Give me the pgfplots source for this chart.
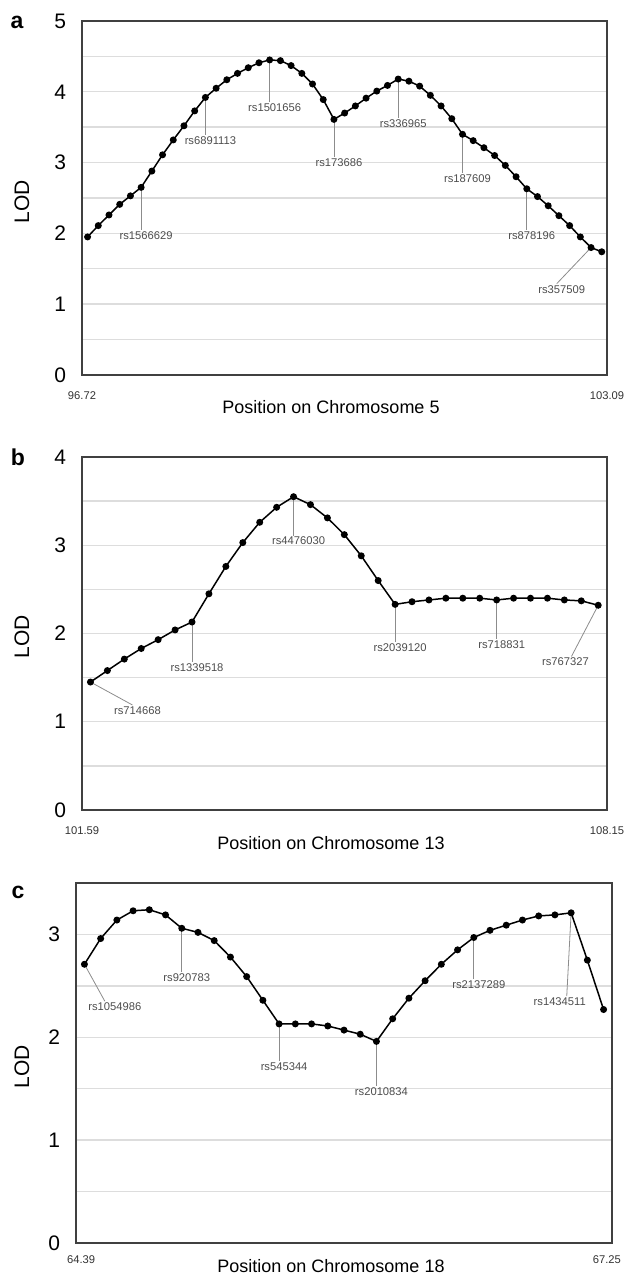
\documentclass[border=0pt]{standalone}
\usepackage{fontspec}
\setmainfont{Liberation Sans}
\usepackage{pgfplots}
\pgfplotsset{compat=1.18}

\definecolor{gridgray}{HTML}{DDDDDD}
\definecolor{framegray}{HTML}{404040}
\definecolor{leadgray}{HTML}{8C8C8C}
\definecolor{labgray}{HTML}{4D4D4D}

\pgfplotsset{
  lodstyle/.style={
    scale only axis,
    anchor=north west,
    axis line style={framegray, line width=0.8pt},
    ymin=0,
    ymajorgrids, yminorgrids,
    major grid style={gridgray, line width=0.7pt},
    minor grid style={gridgray, line width=0.7pt},
    major tick length=0pt, minor tick length=0pt,
    /pgf/number format/assume math mode=true,
    yticklabel style={font=\fontsize{10.5}{12}\selectfont, xshift=-4.5pt},
    xticklabel style={font=\fontsize{5.6}{6.5}\selectfont, text=black!80, yshift=-5pt},
    clip=false,
  },
  lodline/.style={black, line width=0.75pt, mark=*, mark size=1.35pt},
}
\tikzset{
  lead/.style={leadgray, line width=0.4pt},
  rs/.style={anchor=north, inner sep=0.6pt, text=labgray, font=\fontsize{5.6}{6.2}\selectfont, xshift=2.5pt},
  panel/.style={font=\fontsize{11.5}{13}\selectfont\bfseries},
  lod/.style={rotate=90, font=\fontsize{10.5}{12}\selectfont},
  poslab/.style={font=\fontsize{9}{10}\selectfont},
}

\begin{document}
\begin{tikzpicture}
\useasboundingbox (0,0) rectangle (314pt,-638.5pt);

% ---------- a: chromosome 5
\begin{axis}[lodstyle, at={(41pt,-10.5pt)}, width=262.5pt, height=177pt,
  xmin=-0.52, xmax=48.49, ymax=5,
  ytick={0,1,...,5}, minor ytick={0.5,1.5,...,4.5},
  xtick={-0.52,48.49}, xticklabels={96.72,103.09}]
\draw[lead] (axis cs:5,2.65) -- (axis cs:5,2.05) node[rs]{rs1566629};
\draw[lead] (axis cs:11,3.92) -- (axis cs:11,3.39) node[rs]{rs6891113};
\draw[lead] (axis cs:17,4.45) -- (axis cs:17,3.86) node[rs]{rs1501656};
\draw[lead] (axis cs:23,3.61) -- (axis cs:23,3.08) node[rs]{rs173686};
\draw[lead] (axis cs:29,4.18) -- (axis cs:29,3.63) node[rs]{rs336965};
\draw[lead] (axis cs:35,3.40) -- (axis cs:35,2.85) node[rs]{rs187609};
\draw[lead] (axis cs:41,2.63) -- (axis cs:41,2.05) node[rs]{rs878196};
\draw[lead] (axis cs:47,1.80) -- (axis cs:43.8,1.29) node[rs]{rs357509};
\addplot[lodline] table {
x y
0 1.95
1 2.11
2 2.26
3 2.41
4 2.53
5 2.65
6 2.88
7 3.11
8 3.32
9 3.52
10 3.73
11 3.92
12 4.05
13 4.17
14 4.26
15 4.34
16 4.41
17 4.45
18 4.44
19 4.37
20 4.26
21 4.11
22 3.89
23 3.61
24 3.70
25 3.80
26 3.91
27 4.01
28 4.09
29 4.18
30 4.15
31 4.08
32 3.95
33 3.80
34 3.62
35 3.40
36 3.31
37 3.21
38 3.10
39 2.96
40 2.80
41 2.63
42 2.52
43 2.39
44 2.25
45 2.11
46 1.95
47 1.80
48 1.74
};
\end{axis}

% ---------- b: chromosome 13
\begin{axis}[lodstyle, at={(41pt,-228.5pt)}, width=262.5pt, height=176.5pt,
  xmin=-0.50, xmax=30.52, ymax=4,
  ytick={0,1,...,4}, minor ytick={0.5,1.5,...,3.5},
  xtick={-0.50,30.52}, xticklabels={101.59,108.15}]
\draw[lead] (axis cs:0,1.45) -- (axis cs:2.48,1.19) node[rs]{rs714668};
\draw[lead] (axis cs:6,2.13) -- (axis cs:6,1.68) node[rs]{rs1339518};
\draw[lead] (axis cs:12,3.55) -- (axis cs:12,3.11) node[rs]{rs4476030};
\draw[lead] (axis cs:18,2.33) -- (axis cs:18,1.90) node[rs]{rs2039120};
\draw[lead] (axis cs:24,2.38) -- (axis cs:24,1.94) node[rs]{rs718831};
\draw[lead] (axis cs:30,2.32) -- (axis cs:28.42,1.74) node[rs, xshift=-5.5pt]{rs767327};
\addplot[lodline] table {
x y
0 1.45
1 1.58
2 1.71
3 1.83
4 1.93
5 2.04
6 2.13
7 2.45
8 2.76
9 3.03
10 3.26
11 3.43
12 3.55
13 3.46
14 3.31
15 3.12
16 2.88
17 2.60
18 2.33
19 2.36
20 2.38
21 2.40
22 2.40
23 2.40
24 2.38
25 2.40
26 2.40
27 2.40
28 2.38
29 2.37
30 2.32
};
\end{axis}

% ---------- c: chromosome 18
\begin{axis}[lodstyle, at={(38pt,-441.5pt)}, width=268pt, height=180pt,
  xmin=-0.52, xmax=32.52, ymax=3.5,
  ytick={0,1,...,3}, minor ytick={0.5,1.5,...,3.5},
  xtick={-0.2,32.2}, xticklabels={64.39,67.25},
  xticklabel style={yshift=2pt}]
\draw[lead] (axis cs:0,2.71) -- (axis cs:1.26,2.35) node[rs, xshift=2.5pt]{rs1054986};
\draw[lead] (axis cs:6,3.06) -- (axis cs:6,2.63) node[rs]{rs920783};
\draw[lead] (axis cs:12,2.13) -- (axis cs:12,1.77) node[rs]{rs545344};
\draw[lead] (axis cs:18,1.96) -- (axis cs:18,1.53) node[rs]{rs2010834};
\draw[lead] (axis cs:24,2.97) -- (axis cs:24,2.57) node[rs]{rs2137289};
\draw[lead] (axis cs:30,3.21) -- (axis cs:29.73,2.40) node[rs, xshift=-6pt]{rs1434511};
\addplot[lodline] table {
x y
0 2.71
1 2.96
2 3.14
3 3.23
4 3.24
5 3.19
6 3.06
7 3.02
8 2.94
9 2.78
10 2.59
11 2.36
12 2.13
13 2.13
14 2.13
15 2.11
16 2.07
17 2.03
18 1.96
19 2.18
20 2.38
21 2.55
22 2.71
23 2.85
24 2.97
25 3.04
26 3.09
27 3.14
28 3.18
29 3.19
30 3.21
31 2.75
32 2.27
};
\end{axis}

% panel letters, axis titles
\node[panel] at (8.5pt,-11pt) {a};
\node[panel] at (9pt,-228.5pt) {b};
\node[panel] at (9pt,-446pt) {c};
\node[lod] at (11pt,-101pt) {LOD};
\node[lod] at (11pt,-318.5pt) {LOD};
\node[lod] at (11pt,-533.5pt) {LOD};
\node[poslab] at (165.5pt,-203.5pt) {Position on Chromosome 5};
\node[poslab] at (165.5pt,-421.5pt) {Position on Chromosome 13};
\node[poslab] at (165.5pt,-633pt) {Position on Chromosome 18};
\end{tikzpicture}
\end{document}
